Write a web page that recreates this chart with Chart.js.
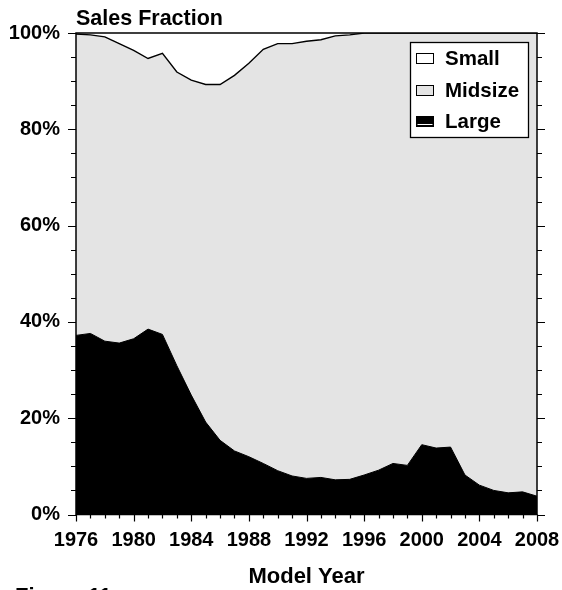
<!DOCTYPE html>
<html>
<head>
<meta charset="utf-8">
<script src="https://cdn.jsdelivr.net/npm/chart.js@4/dist/chart.umd.min.js"></script>
<style>
  html, body { margin: 0; padding: 0; background: #fff; }
  #wrap { width: 562px; height: 590px; }
</style>
</head>
<body>
<div id="wrap"><canvas id="c" width="562" height="590"></canvas></div>
<script>
// Model years on the horizontal axis
const years = [1976, 1977, 1978, 1979, 1980, 1981, 1982, 1983, 1984, 1985, 1986,
               1987, 1988, 1989, 1990, 1991, 1992, 1993, 1994, 1995, 1996, 1997,
               1998, 1999, 2000, 2001, 2002, 2003, 2004, 2005, 2006, 2007, 2008];

// Sales fraction (%) by size class
const large = [37.2, 37.6, 36.0, 35.6, 36.5, 38.5, 37.4, 30.9, 24.8, 19.2, 15.4,
               13.2, 12.0, 10.6, 9.1, 8.0, 7.5, 7.7, 7.2, 7.3, 8.2, 9.2,
               10.6, 10.2, 14.5, 13.8, 14.0, 8.2, 6.1, 5.0, 4.5, 4.7, 3.8];
const midsize = [62.6, 62.0, 63.2, 62.2, 59.9, 56.2, 58.4, 61.0, 65.4, 70.1, 73.9,
                 78.0, 81.7, 86.0, 88.7, 89.8, 90.8, 90.9, 92.2, 92.3, 91.8, 90.8,
                 89.4, 89.8, 85.5, 86.2, 86.0, 91.8, 93.9, 95.0, 95.5, 95.3, 96.2];
const small = [0.2, 0.4, 0.8, 2.2, 3.6, 5.3, 4.2, 8.1, 9.8, 10.7, 10.7,
               8.8, 6.3, 3.4, 2.2, 2.2, 1.7, 1.4, 0.6, 0.4, 0, 0,
               0, 0, 0, 0, 0, 0, 0, 0, 0, 0, 0];

// Axis tick labels
const yTickValues = [0, 20, 40, 60, 80, 100];
const xTickValues = [1976, 1980, 1984, 1988, 1992, 1996, 2000, 2004, 2008];

const FONT_FAMILY = '"Liberation Sans", Arial, Helvetica, sans-serif';
const MID_GREY = '#e4e4e4';

const toPoints = arr => years.map((yr, i) => ({ x: yr, y: arr[i] }));

// Frame, tick marks, captions and the boxed legend
const decorations = {
  id: 'decorations',
  afterDraw(chart) {
    const { ctx, chartArea: a, scales: { x, y } } = chart;
    ctx.save();
    ctx.strokeStyle = '#000';
    ctx.lineWidth = 1.5;
    ctx.strokeRect(a.left, a.top, a.right - a.left, a.bottom - a.top);

    ctx.lineWidth = 1.2;
    ctx.beginPath();
    for (let v = 0; v <= 100; v += 5) {
      const py = Math.round(y.getPixelForValue(v)) + 0.5;
      const len = v % 20 === 0 ? 8 : 5;
      ctx.moveTo(a.left - len, py); ctx.lineTo(a.left, py);
      ctx.moveTo(a.right, py); ctx.lineTo(a.right + len, py);
    }
    for (const yr of years) {
      const px = Math.round(x.getPixelForValue(yr)) + 0.5;
      const len = (yr - 1976) % 4 === 0 ? 7 : 4;
      ctx.moveTo(px, a.bottom); ctx.lineTo(px, a.bottom + len);
    }
    ctx.stroke();

    ctx.fillStyle = '#000';
    ctx.textAlign = 'left';
    ctx.textBaseline = 'alphabetic';
    ctx.font = 'bold 21.5px ' + FONT_FAMILY;
    ctx.fillText('Sales Fraction', a.left, 25);
    ctx.font = 'bold 22px ' + FONT_FAMILY;
    ctx.textAlign = 'center';
    ctx.fillText('Model Year', (a.left + a.right) / 2, 583);
    ctx.textAlign = 'left';
    ctx.fillText('Figure 11', 15, 603);

    // legend box
    const bx = 410, by = 42, bw = 118, bh = 95;
    ctx.fillStyle = '#fff';
    ctx.fillRect(bx, by, bw, bh);
    ctx.lineWidth = 1.3;
    ctx.strokeRect(bx + 0.5, by + 0.5, bw, bh);
    const order = [2, 1, 0];
    const rowsY = [58, 89.5, 121];
    ctx.font = 'bold 20.5px ' + FONT_FAMILY;
    order.forEach((di, k) => {
      const ds = chart.data.datasets[di];
      const cy = rowsY[k];
      const sx = 416.5, sy = Math.round(cy - 5) + 0.5, sw = 17, sh = 10;
      ctx.fillStyle = ds.backgroundColor;
      ctx.fillRect(sx, sy, sw, sh);
      ctx.lineWidth = 1;
      ctx.strokeStyle = '#000';
      ctx.strokeRect(sx, sy, sw, sh);
      if (di === 0) {
        ctx.strokeStyle = '#fff';
        ctx.beginPath();
        ctx.moveTo(sx + 1, sy + sh - 2); ctx.lineTo(sx + sw - 1, sy + sh - 2);
        ctx.stroke();
      }
      ctx.fillStyle = '#000';
      ctx.textAlign = 'left';
      ctx.textBaseline = 'alphabetic';
      ctx.fillText(ds.label, 445, cy + 7);
    });
    ctx.restore();
  }
};

new Chart(document.getElementById('c'), {
  type: 'line',
  data: {
    datasets: [
      { label: 'Large', data: toPoints(large), backgroundColor: '#000000',
        borderColor: '#000000', borderWidth: 1, fill: 'origin' },
      { label: 'Midsize', data: toPoints(midsize), backgroundColor: MID_GREY,
        borderColor: '#000000', borderWidth: 1.4, fill: '-1' },
      { label: 'Small', data: toPoints(small), backgroundColor: '#ffffff',
        borderColor: 'rgba(0,0,0,0)', borderWidth: 0, fill: '-1' }
    ]
  },
  options: {
    responsive: false,
    animation: false,
    layout: { padding: { top: 33, right: 25, left: 0, bottom: 0 } },
    elements: { point: { radius: 0, hoverRadius: 0 }, line: { tension: 0 } },
    plugins: { legend: { display: false }, tooltip: { enabled: false } },
    scales: {
      x: {
        type: 'linear', min: 1976, max: 2008,
        grid: { display: false, drawTicks: false },
        border: { display: false },
        afterBuildTicks: s => { s.ticks = xTickValues.map(v => ({ value: v })); },
        ticks: {
          color: '#000', padding: 14, maxRotation: 0, autoSkip: false,
          font: { family: FONT_FAMILY, size: 20, weight: 'bold' },
          callback: v => String(v)
        },
        afterFit: s => { s.height = 75.5; s.paddingLeft = 0; s.paddingRight = 0; }
      },
      y: {
        stacked: true, min: 0, max: 100,
        grid: { display: false, drawTicks: false },
        border: { display: false },
        afterBuildTicks: s => { s.ticks = yTickValues.map(v => ({ value: v })); },
        ticks: {
          color: '#000', padding: 16,
          font: { family: FONT_FAMILY, size: 20, weight: 'bold' },
          callback: v => v + '%'
        },
        afterFit: s => { s.width = 76; s.paddingTop = 0; s.paddingBottom = 0; }
      }
    }
  },
  plugins: [decorations]
});
</script>
</body>
</html>
